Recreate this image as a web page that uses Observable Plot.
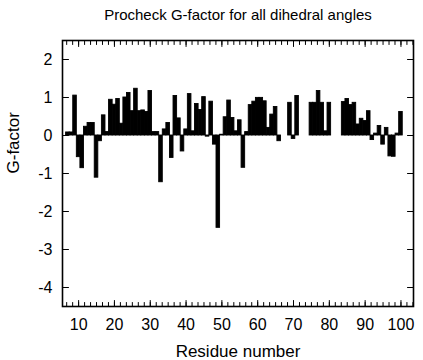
<!DOCTYPE html>
<html><head><meta charset="utf-8">
<script src="https://cdn.jsdelivr.net/npm/d3@7"></script>
<script src="https://cdn.jsdelivr.net/npm/@observablehq/plot@0.6"></script>
<style>body{margin:0;background:#fff} svg{display:block}</style>
</head><body><div id="chart"></div>
<script>
const residues = [
  7,8,9,10,11,12,13,14,15,16,17,18,19,20,21,22,23,24,25,26,27,28,29,30,
  31,32,33,34,35,36,37,38,39,40,41,42,43,44,45,46,47,48,49,50,51,52,53,54,
  55,56,57,58,59,60,61,62,63,64,65,66,
  69,70,71,
  75,76,77,78,79,80,
  84,85,86,87,88,89,90,91,92,93,94,95,96,97,98,99,100
];
const gfactor = [
  0.08,0.08,1.05,-0.57,-0.86,0.23,0.33,0.33,-1.11,-0.15,0.53,0.09,0.94,0.81,0.96,0.31,1.00,1.12,0.64,1.23,0.64,0.66,0.62,1.17,
  0.09,0.09,-1.23,0.16,0.33,-0.59,1.04,0.45,-0.42,0.16,1.09,0.11,0.83,0.67,1.01,-0.03,0.89,-0.24,-2.43,0.02,0.48,0.92,0.46,0.11,
  0.40,-0.85,0.09,0.80,0.89,0.99,0.99,0.90,0.20,0.55,0.75,-0.15,
  0.86,-0.09,1.04,
  0.86,0.86,1.17,0.86,0.11,0.86,
  0.88,0.96,0.80,0.86,0.29,0.44,0.38,0.64,-0.12,0.05,0.25,-0.24,0.20,-0.55,-0.56,0.05,0.62
];
const xTickLabels = [10,20,30,40,50,60,70,80,90,100];
const yTickLabels = [-4,-3,-2,-1,0,1,2];
const title = "Procheck G-factor for all dihedral angles";
const xLabel = "Residue number";
const yLabel = "G-factor";
const xDomain = [5.5, 103.5];
const yDomain = [-4.5, 2.5];

const data = residues.map((r, i) => ({r, g: gfactor[i]}));
const minorX = d3.range(10 - 2 * (10 / 6), xDomain[1], 10 / 6).filter(v => v > xDomain[0]);
const tickLine = {draw(context, l) { context.moveTo(0, 0); context.lineTo(0, -l); }};
const font = "'Liberation Sans', Arial, Helvetica, sans-serif";

const chart = Plot.plot({
  width: 423,
  height: 360,
  marginLeft: 62,
  marginRight: 10,
  marginTop: 40,
  marginBottom: 54,
  style: {fontFamily: font, fontSize: "16px", color: "black", background: "white"},
  x: {domain: xDomain, axis: null, label: null},
  y: {domain: yDomain, axis: null, label: null},
  marks: [
    Plot.rectY(data, {x1: d => d.r - 0.5, x2: d => d.r + 0.5, y1: 0, y2: d => d.g, fill: "black", stroke: "black", strokeWidth: 0.9, inset: 0}),
    // inward ticks on all four sides
    Plot.vector(minorX, {x: d => d, frameAnchor: "bottom", length: 4, rotate: 0, anchor: "start", shape: tickLine, stroke: "black", strokeWidth: 1}),
    Plot.vector(minorX, {x: d => d, frameAnchor: "top", length: 4, rotate: 180, anchor: "start", shape: tickLine, stroke: "black", strokeWidth: 1}),
    Plot.vector(xTickLabels, {x: d => d, frameAnchor: "bottom", length: 6, rotate: 0, anchor: "start", shape: tickLine, stroke: "black", strokeWidth: 1}),
    Plot.vector(xTickLabels, {x: d => d, frameAnchor: "top", length: 6, rotate: 180, anchor: "start", shape: tickLine, stroke: "black", strokeWidth: 1}),
    Plot.vector(yTickLabels, {y: d => d, frameAnchor: "left", length: 6, rotate: 90, anchor: "start", shape: tickLine, stroke: "black", strokeWidth: 1}),
    Plot.vector(yTickLabels, {y: d => d, frameAnchor: "right", length: 6, rotate: -90, anchor: "start", shape: tickLine, stroke: "black", strokeWidth: 1}),
    Plot.frame({stroke: "black", strokeWidth: 1.6}),
    Plot.axisX(xTickLabels, {tickSize: 0, tickPadding: 12, fontSize: 16, label: null, tickFormat: d => String(d)}),
    Plot.axisY(yTickLabels, {tickSize: 0, tickPadding: 10, fontSize: 16, label: null, tickFormat: d => String(d)}),
    Plot.text([title], {text: d => d, frameAnchor: "top", dy: -25, fontSize: 15, lineAnchor: "middle"}),
    Plot.text([xLabel], {text: d => d, frameAnchor: "bottom", dy: 45, fontSize: 17, lineAnchor: "middle"}),
    Plot.text([yLabel], {text: d => d, frameAnchor: "left", dx: -49, rotate: -90, fontSize: 17, lineAnchor: "middle"})
  ]
});
document.getElementById("chart").appendChild(chart);
</script>
</body></html>
